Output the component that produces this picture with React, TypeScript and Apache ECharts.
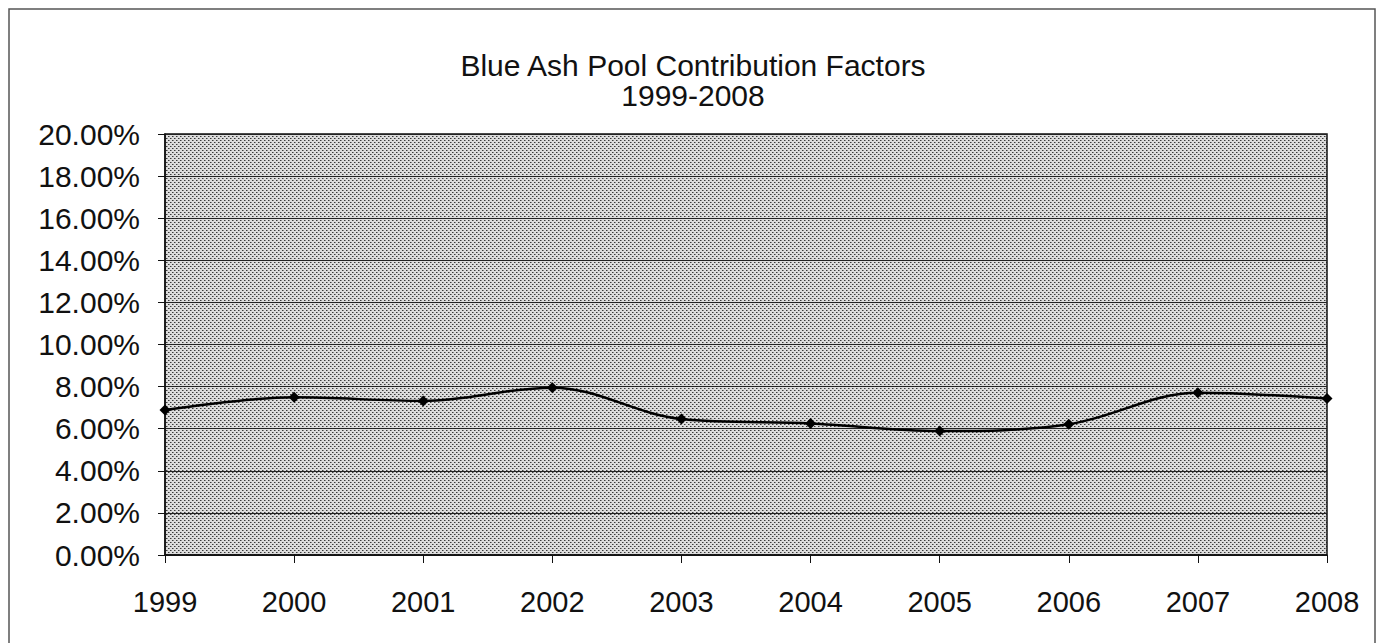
import React, { useEffect, useRef } from "react";
import * as echarts from "echarts";

const years = ["1999", "2000", "2001", "2002", "2003", "2004", "2005", "2006", "2007", "2008"];
const factors = [6.89, 7.49, 7.32, 7.95, 6.46, 6.25, 5.89, 6.21, 7.71, 7.43];
const titleLine1 = "Blue Ash Pool Contribution Factors";
const titleLine2 = "1999-2008";

function makePattern() {
  const c = document.createElement("canvas");
  c.width = 4;
  c.height = 4;
  const ctx = c.getContext("2d")!;
  ctx.fillStyle = "#dcdcdc";
  ctx.fillRect(0, 0, 4, 4);
  ctx.fillStyle = "#3a3a3a";
  ctx.fillRect(0, 0, 1, 1);
  ctx.fillRect(2, 2, 1, 1);
  ctx.fillStyle = "#8a8a8a";
  ctx.fillRect(1, 0, 1, 1);
  ctx.fillRect(3, 2, 1, 1);
  return c;
}

export default function App() {
  const ref = useRef<HTMLDivElement>(null);
  useEffect(() => {
    document.body.style.margin = "0";
    const chart = echarts.init(ref.current!, null, { renderer: "svg" });
    const font = "'Liberation Sans', Arial, sans-serif";
    chart.setOption({
      animation: false,
      backgroundColor: "#ffffff",
      title: [
        {
          text: titleLine1 + "\n" + titleLine2,
          left: 688,
          top: 45,
          textAlign: "center",
          textStyle: { fontFamily: font, fontSize: 30, fontWeight: "normal", color: "#111", lineHeight: 30 },
        },
      ],
      graphic: [
        {
          type: "rect",
          shape: { x: 9, y: 9, width: 1366, height: 640 },
          style: { fill: "none", stroke: "#555", lineWidth: 1.5 },
          silent: true,
          z: -1,
        },
      ],
      grid: {
        left: 165,
        right: 57,
        top: 134,
        bottom: 88,
        show: true,
        backgroundColor: { image: makePattern(), repeat: "repeat" },
        borderColor: "#111",
        borderWidth: 1.5,
      },
      xAxis: {
        type: "category",
        data: years,
        boundaryGap: false,
        axisLine: { lineStyle: { color: "#111", width: 1.5 } },
        axisTick: { show: true, length: 8, lineStyle: { color: "#111" } },
        axisLabel: { fontFamily: font, fontSize: 29, color: "#111", margin: 32 },
        splitLine: { show: false },
      },
      yAxis: {
        type: "value",
        min: 0,
        max: 20,
        interval: 2,
        axisLine: { show: true, lineStyle: { color: "#111", width: 1.5 } },
        axisTick: { show: true, length: 7, lineStyle: { color: "#111" } },
        axisLabel: {
          fontFamily: font,
          fontSize: 30,
          color: "#111",
          margin: 25,
          formatter: (v: number) => v.toFixed(2) + "%",
        },
        splitLine: { show: true, lineStyle: { color: "#222", width: 1 } },
      },
      series: [
        {
          type: "line",
          data: factors,
          smooth: 0.35,
          symbol: "diamond",
          symbolSize: 11,
          itemStyle: { color: "#000" },
          lineStyle: { color: "#000", width: 2.5 },
        },
      ],
    });
    return () => chart.dispose();
  }, []);
  return <div ref={ref} style={{ width: 1384, height: 643 }} />;
}
